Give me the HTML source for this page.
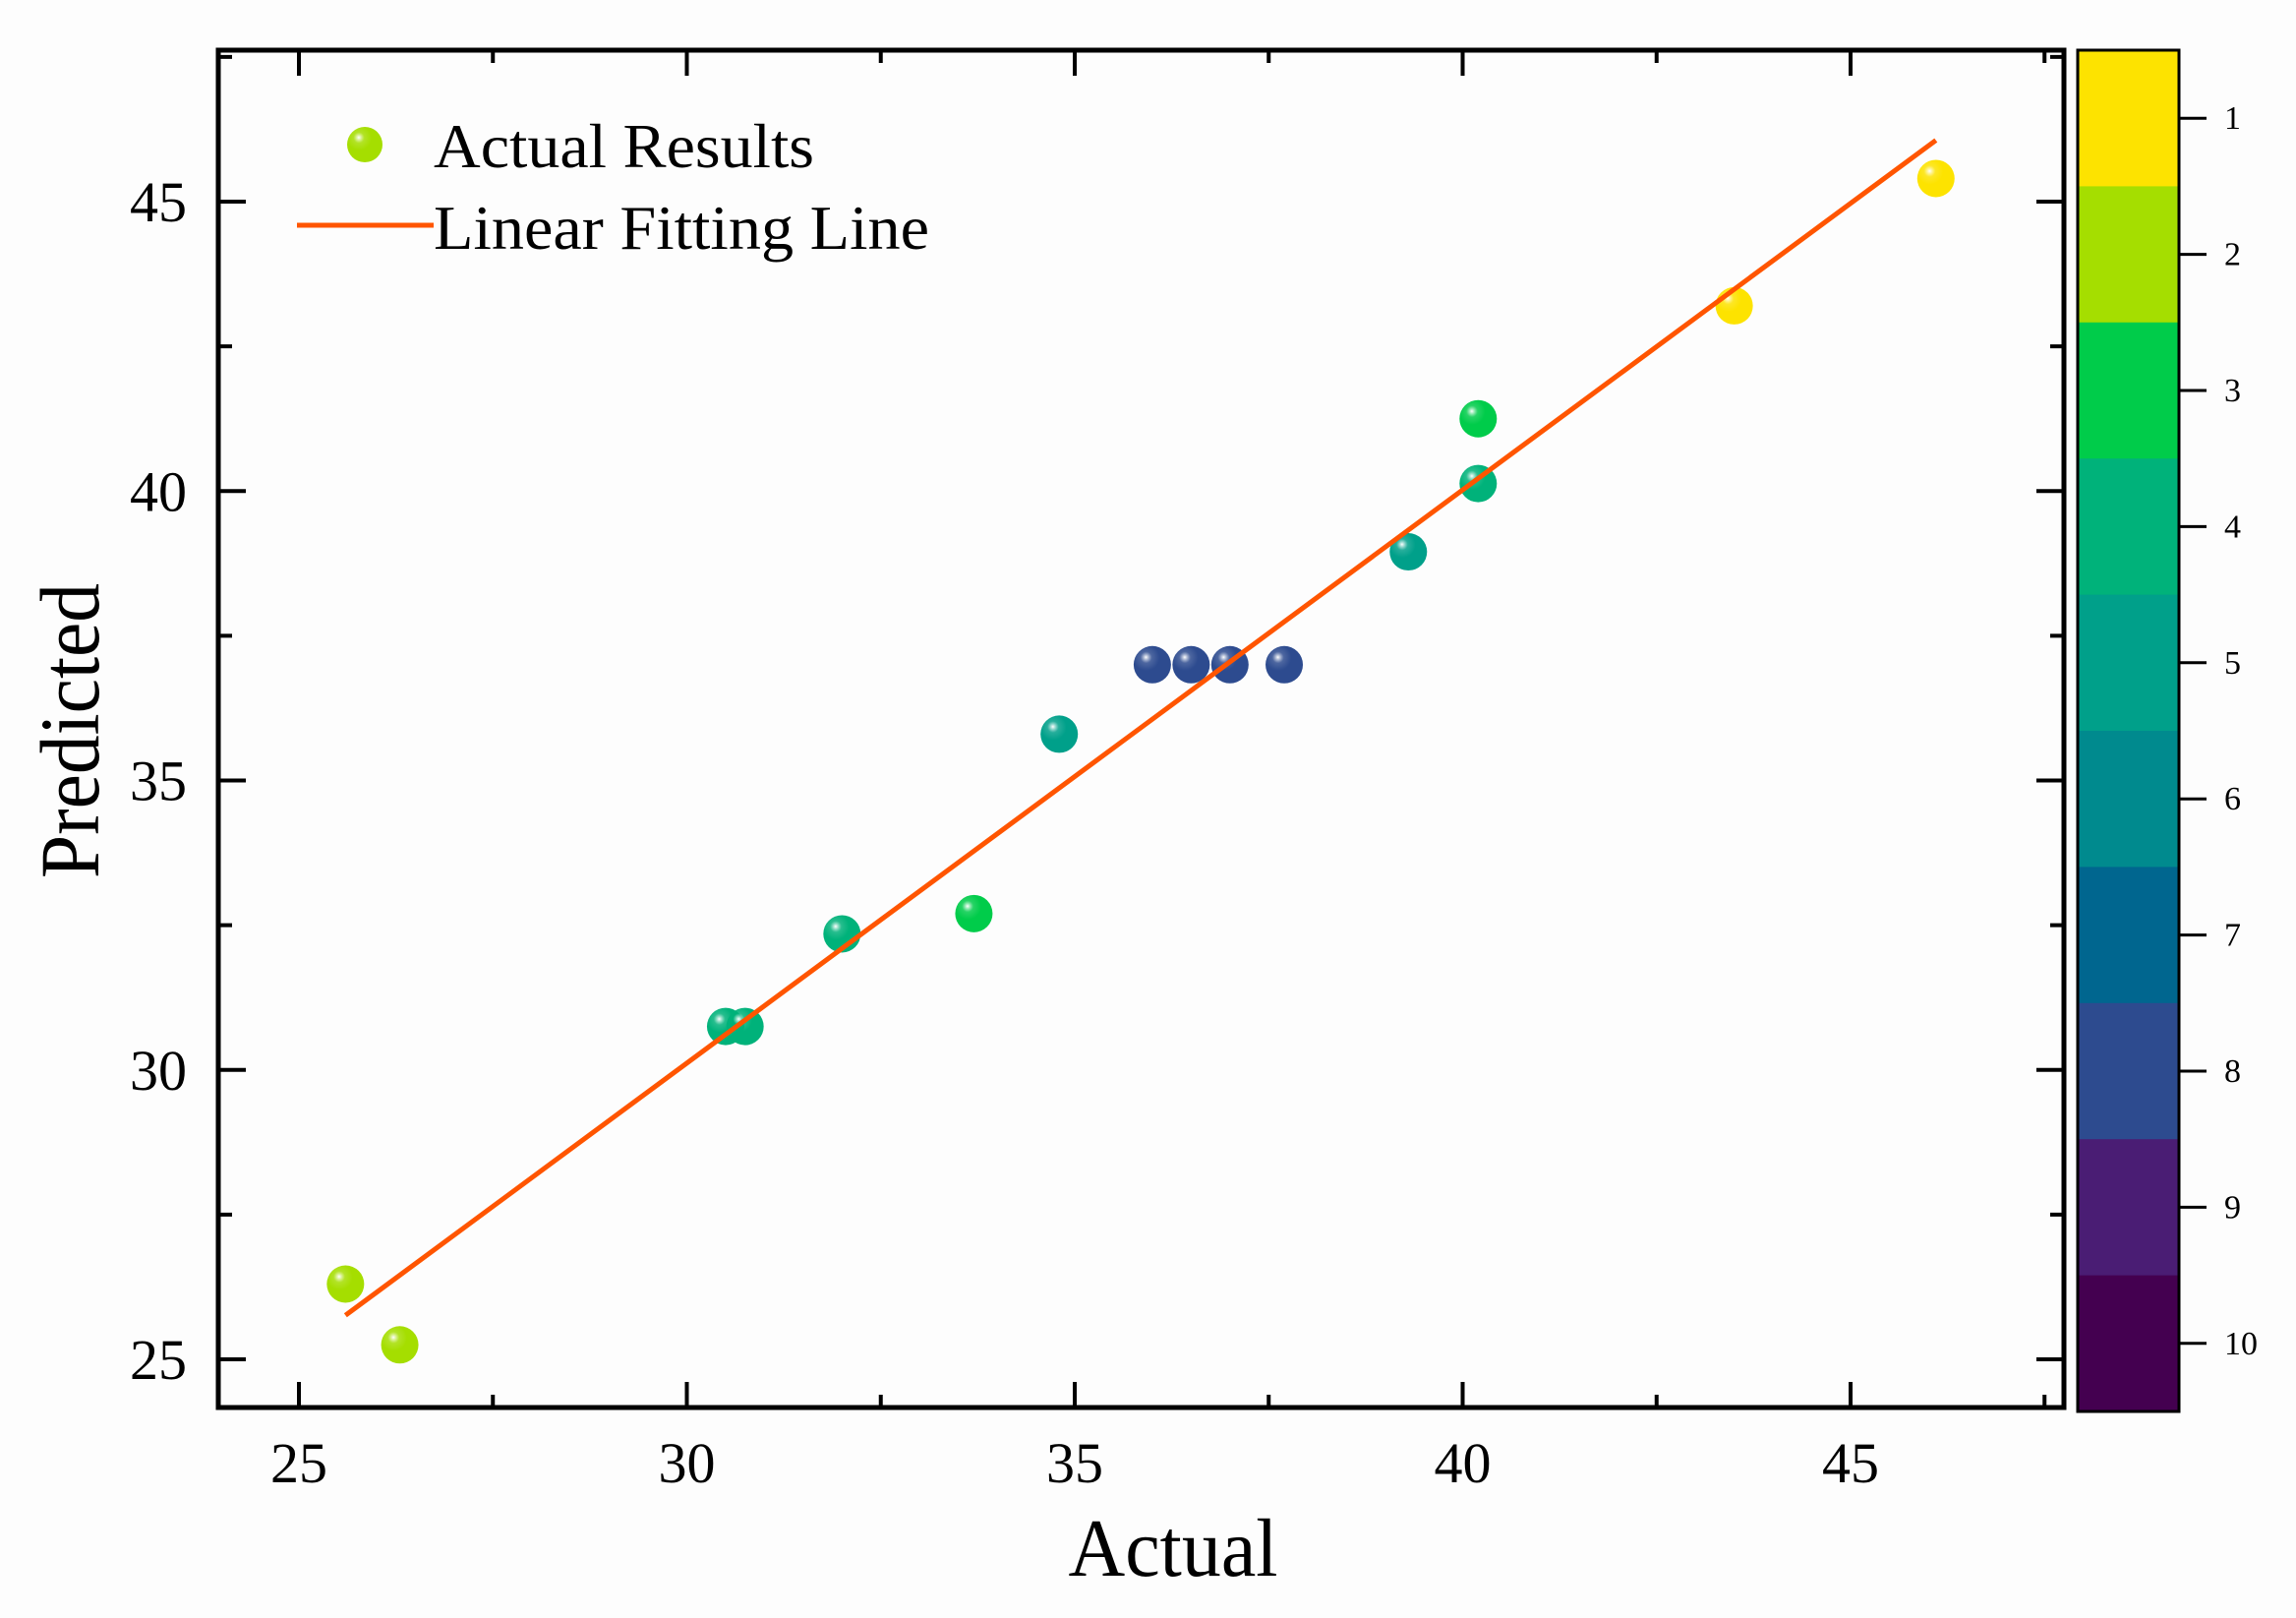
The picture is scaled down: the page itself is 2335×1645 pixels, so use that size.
<!DOCTYPE html>
<html><head><meta charset="utf-8"><style>
html,body{margin:0;padding:0;background:#fdfdfd;}
svg{display:block;font-family:"Liberation Serif",serif;}
</style></head><body>
<svg id="chart" width="2335" height="1645" viewBox="0 0 2335 1645">
<defs id="defs"></defs>
<rect x="0" y="0" width="2335" height="1645" fill="#fdfdfd"/>
<g id="ticks"></g>
<g id="pts"></g>
<g id="fit"></g>
<g id="bar"></g>
<rect x="222" y="51" width="1877" height="1380" fill="none" stroke="#000" stroke-width="5"/>
<text x="1193" y="1602" font-size="84" text-anchor="middle" textLength="213" lengthAdjust="spacingAndGlyphs">Actual</text>
<text transform="translate(100,743) rotate(-90)" font-size="86" text-anchor="middle" textLength="300" lengthAdjust="spacingAndGlyphs">Predicted</text>
<g>
  <circle cx="371" cy="147" r="18" fill="url(#g2)"/>
  <text x="441" y="170" font-size="64" textLength="387" lengthAdjust="spacingAndGlyphs">Actual Results</text>
  <line x1="302" y1="229" x2="441" y2="229" stroke="#ff5500" stroke-width="5"/>
  <text x="441" y="253" font-size="64" textLength="504" lengthAdjust="spacingAndGlyphs">Linear Fitting Line</text>
</g>
</svg>
<script>
const actualX=[25.6,26.3,30.5,30.75,32.0,33.7,34.8,36.0,36.5,37.0,37.7,39.3,40.2,40.2,43.5,46.1];
const predictedY=[26.3,25.25,30.75,30.75,32.35,32.7,35.8,37.0,37.0,37.0,37.0,38.95,40.13,41.25,43.2,45.4];
const classes=[2,2,4,4,4,3,5,8,8,8,8,5,4,3,1,1];
const fitX=[25.6,46.1];
const fitY=[25.76,46.06];
const xTicks=[25,30,35,40,45];
const yTicks=[25,30,35,40,45];
const barLabels=["1","2","3","4","5","6","7","8","9","10"];
const barColors=["#fde300","#a5de00","#00cc4a","#00b27a","#00a08a","#008a8e","#00668f","#2d4b8f","#4a1d74","#440050"];
const NS="http://www.w3.org/2000/svg";
function X(v){return 304+(v-25)*78.9;}
function Y(v){return 1382-(v-25)*58.85;}
function mk(tag,attrs,parent){const e=document.createElementNS(NS,tag);for(const k in attrs)e.setAttribute(k,attrs[k]);parent.appendChild(e);return e;}
const defs=document.getElementById('defs');
barColors.forEach((c,i)=>{
  const g=mk('radialGradient',{id:'g'+(i+1),cx:'0.35',cy:'0.32',r:'0.7',fx:'0.33',fy:'0.3'},defs);
  mk('stop',{offset:'0',"stop-color":'#ffffff'},g);
  mk('stop',{offset:'0.22',"stop-color":c,"stop-opacity":'0.85'},g);
  mk('stop',{offset:'0.5',"stop-color":c},g);
  mk('stop',{offset:'1',"stop-color":c},g);
});
const tk=document.getElementById('ticks');
function tl(x1,y1,x2,y2,name){const l=mk('line',{x1:x1,y1:y1,x2:x2,y2:y2,stroke:'#000','stroke-width':4},tk);

}
for(let v=25;v<=47.5;v+=2.5){
  const major=v%5===0;const L=major?26:13;const x=X(v);
  tl(x,1431,x,1431-L,'x-tick');tl(x,51,x,51+L,'x-tick-top');
}
for(let v=25;v<=47.5;v+=2.5){
  const major=v%5===0;const L=major?28:14;const y=Y(v);
  tl(222,y,222+L,y,'y-tick');tl(2099,y,2099-L,y,'y-tick-right');
}
xTicks.forEach(v=>{const t=mk('text',{x:X(v),y:1507,'font-size':58,'text-anchor':'middle'},tk);t.textContent=v;

});
yTicks.forEach(v=>{const t=mk('text',{x:190,y:Y(v)+20,'font-size':58,'text-anchor':'end'},tk);t.textContent=v;

});
const pts=document.getElementById('pts');
actualX.forEach((v,i)=>{const c=mk('circle',{cx:X(v),cy:Y(predictedY[i]),r:19,fill:'url(#g'+classes[i]+')'},pts);

});
const fl=mk('line',{x1:X(fitX[0]),y1:Y(fitY[0]),x2:X(fitX[1]),y2:Y(fitY[1]),stroke:'#ff5500','stroke-width':5},document.getElementById('fit'));


const bar=document.getElementById('bar');
const barTop=51,barBot=1435,segH=(barBot-barTop)/barColors.length;
barColors.forEach((c,i)=>{
  const r=mk('rect',{x:2113,y:barTop+i*segH,width:103,height:segH+0.5,fill:c},bar);
  
  
  const yc=barTop+(i+0.5)*segH;
  const l=mk('line',{x1:2216,y1:yc,x2:2244,y2:yc,stroke:'#000','stroke-width':3},bar);
  
  
  const t=mk('text',{x:2262,y:yc+11,'font-size':34},bar);t.textContent=barLabels[i];
  
  
});
const fr=mk('rect',{x:2113,y:barTop,width:103,height:barBot-barTop,fill:'none',stroke:'#000','stroke-width':3},bar);


</script>
</body></html>
